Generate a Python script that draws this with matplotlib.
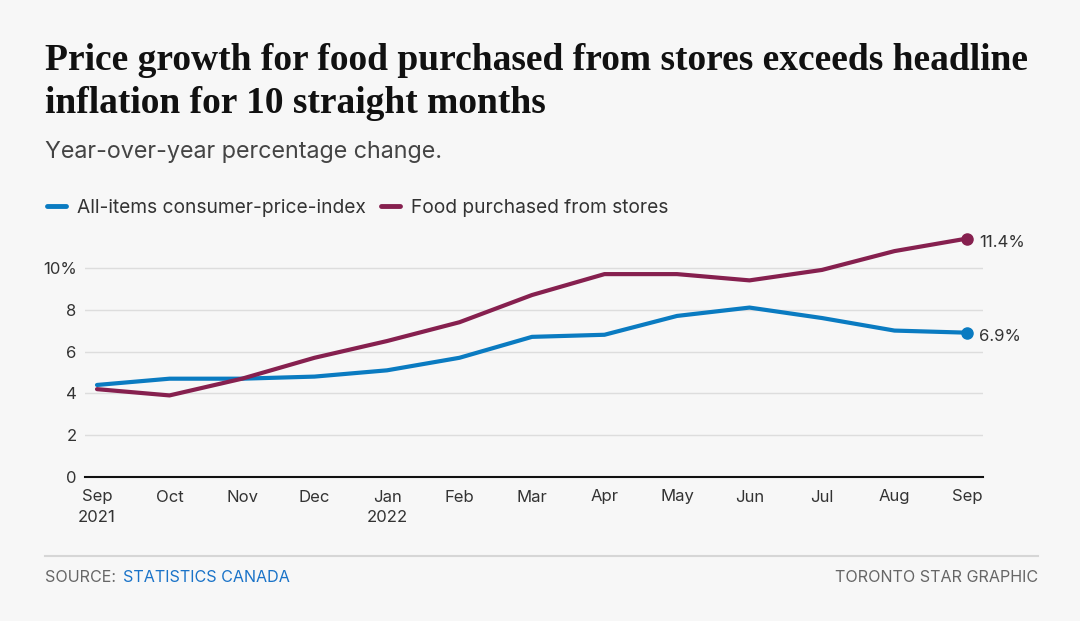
import numpy as np
import matplotlib.pyplot as plt
from matplotlib.lines import Line2D

months = ["Sep", "Oct", "Nov", "Dec", "Jan", "Feb", "Mar", "Apr", "May", "Jun", "Jul", "Aug", "Sep"]
tick_labels = ["Sep\n2021", "Oct", "Nov", "Dec", "Jan\n2022", "Feb", "Mar", "Apr", "May", "Jun", "Jul", "Aug", "Sep"]
all_items = [4.4, 4.7, 4.7, 4.8, 5.1, 5.7, 6.7, 6.8, 7.7, 8.1, 7.6, 7.0, 6.9]
food_stores = [4.2, 3.9, 4.7, 5.7, 6.5, 7.4, 8.7, 9.7, 9.7, 9.4, 9.9, 10.8, 11.4]
y_ticks = [0, 2, 4, 6, 8, 10]
y_tick_labels = ["0", "2", "4", "6", "8", "10%"]

blue = "#0a7bc1"
maroon = "#86204f"
bg = "#f7f7f7"
txt = "#333333"

plt.rcParams["font.family"] = ["Inter", "DejaVu Sans"]

fig = plt.figure(figsize=(10.8, 6.21), dpi=100, facecolor=bg)
W, H = 1080, 621

# title / subtitle
fig.text(45 / W, 1 - 82 / H, "Price growth for food purchased from stores exceeds headline\ninflation for 10 straight months",
         family="Liberation Serif", fontweight="bold", fontsize=27, color="#111111",
         va="center", ha="left", linespacing=1.3)
fig.text(45 / W, 1 - 152 / H, "Year-over-year percentage change.", fontsize=16.8, color="#444444",
         va="center", ha="left")

ax = fig.add_axes([85 / W, 1 - 477 / H, 898 / W, 251 / H])
ax.set_facecolor(bg)
x = np.arange(len(months))

ax.plot(x, all_items, color=blue, lw=3, solid_capstyle="round", solid_joinstyle="round", zorder=3)
ax.plot(x, food_stores, color=maroon, lw=3, solid_capstyle="round", solid_joinstyle="round", zorder=3)
ax.plot(x[-1], all_items[-1], "o", color=blue, ms=8, zorder=4)
ax.plot(x[-1], food_stores[-1], "o", color=maroon, ms=8, zorder=4)
ax.annotate(f"{all_items[-1]}%", (x[-1], all_items[-1]), xytext=(9, -3), textcoords="offset points",
            fontsize=12, color=txt, va="center", ha="left", annotation_clip=False)
ax.annotate(f"{food_stores[-1]}%", (x[-1], food_stores[-1]), xytext=(9, -3), textcoords="offset points",
            fontsize=12, color=txt, va="center", ha="left", annotation_clip=False)

ax.set_xlim(-12 / 72.5, 12 + 16 / 72.5)
ax.set_ylim(0, 12)
ax.set_yticks(y_ticks)
ax.set_yticklabels(y_tick_labels)
ax.set_xticks(x)
ax.set_xticklabels(tick_labels, linespacing=1.5)
ax.tick_params(axis="both", length=0, labelsize=12, colors=txt)
ax.tick_params(axis="y", pad=6)
ax.tick_params(axis="x", pad=9)
ax.grid(axis="y", color="#dddddd", lw=1)
ax.set_axisbelow(True)
for s in ["top", "right", "left"]:
    ax.spines[s].set_visible(False)
ax.spines["bottom"].set_color("#111111")
ax.spines["bottom"].set_linewidth(1.5)

# legend
handles = [Line2D([0], [0], color=blue, lw=3.5, solid_capstyle="round"),
           Line2D([0], [0], color=maroon, lw=3.5, solid_capstyle="round")]
fig.legend(handles, ["All-items consumer-price-index", "Food purchased from stores"],
           loc="center left", bbox_to_anchor=(30 / W, 1 - 208 / H), ncol=2, frameon=False,
           fontsize=13.8, handlelength=1.0, handletextpad=0.55, columnspacing=0.8,
           labelcolor=txt)

# footer
fig.add_artist(Line2D([45 / W, 1038 / W], [1 - 556 / H, 1 - 556 / H], color="#d6d6d6", lw=1.5))
fig.text(45 / W, 1 - 578 / H, "SOURCE:", fontsize=11.6, color="#666666", va="center", ha="left")
fig.text(123 / W, 1 - 578 / H, "STATISTICS CANADA", fontsize=11.6, color="#1a73c8", va="center", ha="left")
fig.text(1038 / W, 1 - 578 / H, "TORONTO STAR GRAPHIC", fontsize=11.6, color="#666666", va="center", ha="right")

fig.savefig("out.png", dpi=100, facecolor=bg)
